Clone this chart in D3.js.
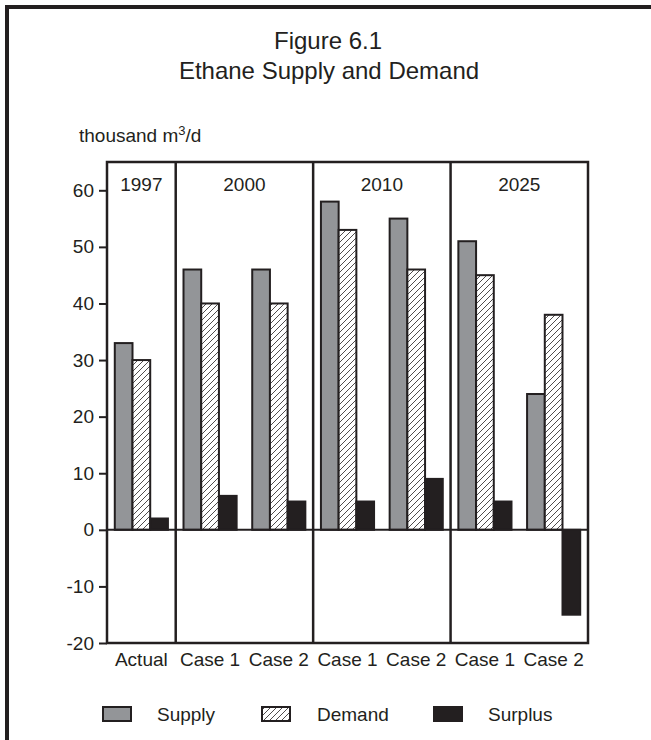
<!DOCTYPE html>
<html>
<head>
<meta charset="utf-8">
<script src="https://cdn.jsdelivr.net/npm/d3@7"></script>
<style>
  html, body { margin: 0; padding: 0; background: #fff; }
  svg { display: block; }
  text { font-family: "Liberation Sans", Arial, sans-serif; fill: #231f20; }
</style>
</head>
<body>
<script>
const categories = ["Actual", "Case 1", "Case 2", "Case 1", "Case 2", "Case 1", "Case 2"];
const years = ["1997", "2000", "2010", "2025"];
const yearSpans = [1, 2, 2, 2];
const seriesNames = ["Supply", "Demand", "Surplus"];
const supply = [33, 46, 46, 58, 55, 51, 24];
const demand = [30, 40, 40, 53, 46, 45, 38];
const surplus = [2, 6, 5, 5, 9, 5, -15];
const yTicks = [-20, -10, 0, 10, 20, 30, 40, 50, 60];
const titleLines = ["Figure 6.1", "Ethane Supply and Demand"];

const W = 651, H = 740;
const dark = "#231f20", gray = "#939598";
const plot = { left: 107, right: 588, top: 162, bottom: 643 };

const svg = d3.select("body").append("svg").attr("width", W).attr("height", H);

const defs = svg.append("defs");
const pat = defs.append("pattern").attr("id", "hatch")
  .attr("patternUnits", "userSpaceOnUse").attr("width", 6).attr("height", 6);
pat.append("rect").attr("width", 6).attr("height", 6).attr("fill", "#fff");
pat.append("path").attr("d", "M-1,7 L7,-1 M-4,4 L4,-4 M2,10 L10,2")
  .attr("stroke", dark).attr("stroke-width", 0.8);

// outer frame
svg.append("path").attr("d", `M7,${H} L7,7 L${W},7`)
  .attr("fill", "none").attr("stroke", dark).attr("stroke-width", 4);

// title
svg.append("text").attr("x", 328).attr("y", 49).attr("text-anchor", "middle")
  .attr("font-size", 24).text(titleLines[0]);
svg.append("text").attr("x", 329).attr("y", 79).attr("text-anchor", "middle")
  .attr("font-size", 24).text(titleLines[1]);

// unit label
const unit = svg.append("text").attr("x", 79).attr("y", 142).attr("font-size", 19);
unit.append("tspan").text("thousand m");
unit.append("tspan").attr("font-size", 13).attr("dy", -7).text("3");
unit.append("tspan").attr("dy", 7).text("/d");

const x = d3.scaleBand().domain(d3.range(categories.length))
  .range([plot.left, plot.right]).paddingInner(0).paddingOuter(0);
const xs = d3.scaleBand().domain(seriesNames).range([0, x.bandwidth()])
  .paddingInner(0).paddingOuter(0.44);
const y = d3.scaleLinear().domain([-20, 65]).range([plot.bottom, plot.top]);

// bars
const data = categories.map((c, i) => ({ i, Supply: supply[i], Demand: demand[i], Surplus: surplus[i] }));
const fills = { Supply: gray, Demand: "url(#hatch)", Surplus: dark };
seriesNames.forEach(s => {
  svg.append("g").selectAll("rect").data(data).join("rect")
    .attr("x", d => x(d.i) + xs(s))
    .attr("width", xs.bandwidth())
    .attr("y", d => y(Math.max(0, d[s])))
    .attr("height", d => Math.abs(y(d[s]) - y(0)))
    .attr("fill", fills[s])
    .attr("stroke", dark).attr("stroke-width", 2);
});

// zero line
svg.append("line").attr("x1", plot.left).attr("x2", plot.right)
  .attr("y1", y(0)).attr("y2", y(0)).attr("stroke", dark).attr("stroke-width", 2);

// year dividers and labels
let start = 0;
years.forEach((yr, k) => {
  const x0 = x(start), x1 = x(start + yearSpans[k] - 1) + x.bandwidth();
  if (k > 0) {
    svg.append("line").attr("x1", x0).attr("x2", x0)
      .attr("y1", plot.top).attr("y2", plot.bottom)
      .attr("stroke", dark).attr("stroke-width", 2.5);
  }
  svg.append("text").attr("x", (x0 + x1) / 2).attr("y", 191)
    .attr("text-anchor", "middle").attr("font-size", 19).text(yr);
  start += yearSpans[k];
});

// frame
svg.append("rect").attr("x", plot.left).attr("y", plot.top)
  .attr("width", plot.right - plot.left).attr("height", plot.bottom - plot.top)
  .attr("fill", "none").attr("stroke", dark).attr("stroke-width", 2.5);

// y axis
const yAxis = svg.append("g").attr("transform", `translate(${plot.left},0)`)
  .call(d3.axisLeft(y).tickValues(yTicks).tickFormat(d => String(d)).tickSize(8).tickPadding(5));
yAxis.select(".domain").remove();
yAxis.selectAll(".tick line").attr("stroke", dark).attr("stroke-width", 2);
yAxis.selectAll(".tick text").attr("font-size", 19).attr("fill", dark)
  .attr("font-family", '"Liberation Sans", Arial, sans-serif');

// x labels
svg.append("g").selectAll("text").data(categories).join("text")
  .attr("x", (d, i) => x(i) + x.bandwidth() / 2).attr("y", 666)
  .attr("text-anchor", "middle").attr("font-size", 19).text(d => d);

// legend
const legend = [
  { name: "Supply", fill: gray, sx: 103, tx: 157 },
  { name: "Demand", fill: "url(#hatch)", sx: 262, tx: 317 },
  { name: "Surplus", fill: dark, sx: 434, tx: 488 }
];
const lg = svg.append("g");
legend.forEach(l => {
  lg.append("rect").attr("x", l.sx).attr("y", 707).attr("width", 28).attr("height", 14)
    .attr("fill", l.fill).attr("stroke", dark).attr("stroke-width", 2);
  lg.append("text").attr("x", l.tx).attr("y", 721).attr("font-size", 19).text(l.name);
});
</script>
</body>
</html>
